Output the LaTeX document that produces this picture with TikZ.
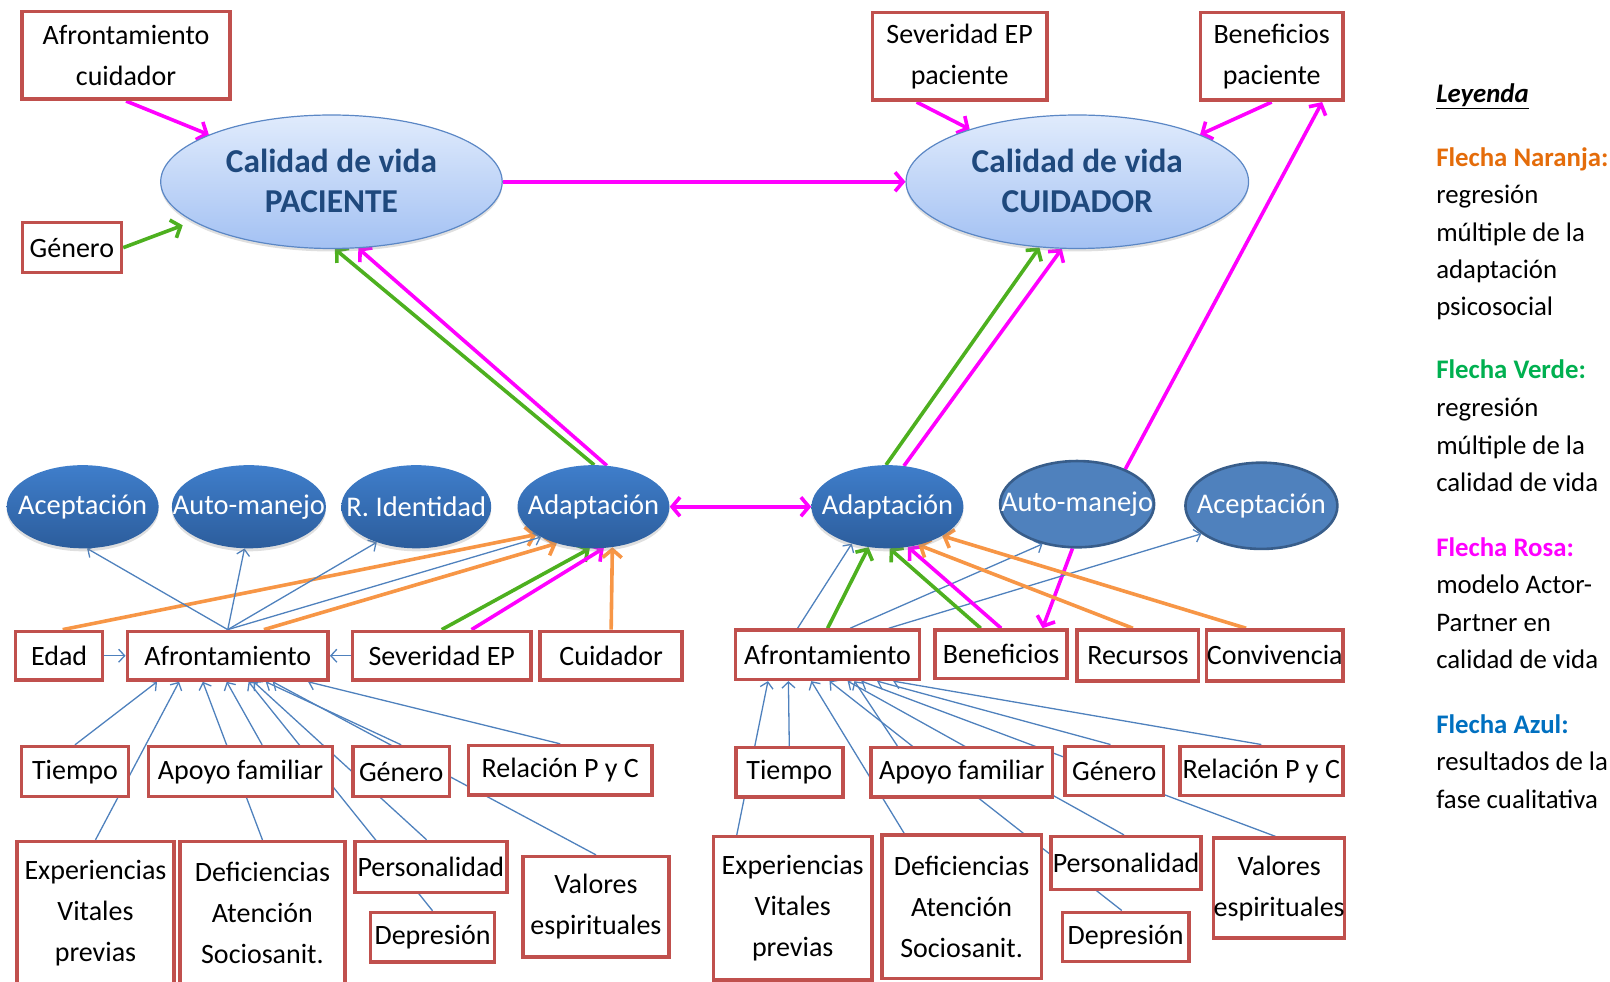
\documentclass[tikz,border=0pt]{standalone}
\usepackage{fontspec}
\setmainfont{Carlito}
\usetikzlibrary{shapes.geometric,arrows.meta,calc,shadows}
\pgfdeclarelayer{bg}
\pgfsetlayers{bg,main}

\definecolor{boxred}{HTML}{C0504D}
\definecolor{cvtext}{HTML}{1F497D}
\definecolor{cvtop}{HTML}{E0EBFC}
\definecolor{cvbot}{HTML}{A3C1F3}
\definecolor{cvline}{HTML}{5B87C5}
\definecolor{adtop}{HTML}{3F7ECB}
\definecolor{adbot}{HTML}{2C5D9C}
\definecolor{adflat}{HTML}{4F81BD}
\definecolor{adline}{HTML}{385D8A}
\definecolor{linkblue}{HTML}{4F81BD}
\definecolor{linkor}{HTML}{F79646}
\definecolor{linkgr}{HTML}{4DB01F}
\definecolor{linkpk}{HTML}{FF00FF}
\definecolor{legor}{HTML}{E46C0A}
\definecolor{leggr}{HTML}{00B050}
\definecolor{legbl}{HTML}{0070C0}

\newcommand\bxfont{\fontsize{28}{41}\selectfont}
\newcommand\elfont{\fontsize{28.5}{34}\selectfont}
\newcommand\cvfont{\fontsize{33.4}{40}\selectfont\bfseries}
\newcommand\lgfont{\fontsize{26.8}{37.5}\selectfont}

\tikzset{
  bx/.style 2 args={minimum width=#1*1.0268pt, minimum height=#2*1.0268pt},
  el/.style 2 args={ellipse, minimum width=2*#1*1.0268pt, minimum height=2*#2*1.0268pt, inner sep=0pt},
  box/.style={draw=boxred, line width=3.6pt, fill=white, inner sep=0pt, align=center, font=\bxfont},
  boxtext/.style={inner sep=0pt, align=center, font=\bxfont},
  cvell/.style={top color=cvtop, bottom color=cvbot, draw=cvline, line width=1.2pt,
    text=cvtext, font=\cvfont,
    drop shadow={shadow xshift=0pt, shadow yshift=-3pt, opacity=0.25}},
  dkell/.style={top color=adtop, bottom color=adbot, text=white, font=\elfont,
    drop shadow={shadow xshift=0pt, shadow yshift=-3pt, opacity=0.25}},
  flell/.style={fill=adflat, draw=adline, line width=2.6pt, text=white, font=\elfont},
  lnk/.style={line width=3.6pt, -{Straight Barb[length=8pt,width=19pt]}},
  lkpk/.style={lnk, draw=linkpk},
  lkpkboth/.style={lkpk, {Straight Barb[length=8pt,width=19pt]}-{Straight Barb[length=8pt,width=19pt]}},
  lkgr/.style={lnk, draw=linkgr},
  lkor/.style={lnk, draw=linkor},
  lkbl/.style={draw=linkblue, line width=1.3pt, -{Straight Barb[length=6pt,width=13pt]}},
  legtext/.style={anchor=base west, inner sep=0pt, font=\lgfont},
}

\begin{document}
\begin{tikzpicture}[x=1.0268pt, y=-1.0268pt]
\useasboundingbox (0,0) rectangle (1568,956);
\clip (0,0) rectangle (1568,956);

% ---- quality of life (top) ----
\node[box, bx={202.2}{85.3}] (acuid) at (122.8,54) {Afrontamiento\\cuidador};
\node[box, bx={96.5}{48.7}] (genP) at (70,241.2) {Género};
\node[box, bx={170.1}{85.3}] (sevP) at (934.6,55) {Severidad EP\\paciente};
\node[box, bx={139}{85.3}] (benP) at (1238.5,55) {Beneficios\\paciente};

\node[cvell, el={166.3}{65}] (cvP) at (322.8,177)
  {\makebox[0pt]{\begin{tabular}{@{}c@{}}\rule{0pt}{34pt}Calidad de vida\\PACIENTE\end{tabular}}};
\node[cvell, el={166.8}{65}] (cvC) at (1049.2,177)
  {\makebox[0pt]{\begin{tabular}{@{}c@{}}\rule{0pt}{34pt}Calidad de vida\\CUIDADOR\end{tabular}}};

% ---- adaptation ellipses ----
\node[dkell, el={74}{40.5}] (aceL) at (80.5,493.5) {\makebox[0pt]{Aceptación}};
\node[dkell, el={75}{40.5}] (autL) at (242.4,493.5) {\makebox[0pt]{Auto-manejo}};
\node[dkell, el={73}{40.5}] (ridL) at (405.4,493.5) {\makebox[0pt]{R. Identidad}};
\node[dkell, el={74}{40.5}] (adaL) at (578,493.5) {\makebox[0pt]{Adaptación}};
\node[dkell, el={74}{40.5}] (adaR) at (864.3,493.5) {\makebox[0pt]{Adaptación}};
\node[flell, el={75}{42}] (autR) at (1049,491) {\makebox[0pt]{Auto-manejo}};
\node[flell, el={74}{42}] (aceR) at (1228.5,492.6) {\makebox[0pt]{Aceptación}};

% ---- predictors, patient side ----
\node[box, bx={84.8}{47.3}] (edad) at (57.6,638.6) {Edad};
\node[box, bx={195.6}{47.3}] (afL) at (221.8,638.6) {Afrontamiento};
\node[box, bx={173.5}{47.3}] (sev) at (430.2,638.6) {Severidad EP};
\node[box, bx={138.5}{47.3}] (cuid) at (595.2,638.6) {Cuidador};

\node[box, bx={104.3}{48.7}] (tiL) at (73,751.5) {Tiempo};
\node[box, bx={179.1}{48.7}] (apL) at (234.3,751.5) {Apoyo familiar};
\node[box, bx={94.4}{48.7}] (geL) at (390.7,751.5) {Género};
\node[box, bx={178.3}{48.1}] (reL) at (545.6,750.2) {Relación P y C};

\node[box, bx={153.1}{170}] (exL) at (93,904.7) {};
\node[boxtext] (exL-t) at (93,889) {Experiencias\\Vitales\\previas};
\node[box, bx={160.7}{170}] (deL) at (255.6,904.7) {};
\node[boxtext] (deL-t) at (255.6,889) {Deficiencias\\Atención\\Sociosanit.};
\node[box, bx={147.8}{49.7}] (peL) at (419.6,844.5) {Personalidad};
\node[box, bx={120.8}{47.8}] (dpL) at (421.3,912.7) {Depresión};
\node[box, bx={141.7}{98}] (vaL) at (580.4,883.3) {Valores\\espirituales};

% ---- predictors, caregiver side ----
\node[box, bx={179.1}{48}] (afR) at (806,637.6) {Afrontamiento};
\node[box, bx={128.3}{47}] (ben) at (975,637.1) {Beneficios};
\node[box, bx={118.4}{49.4}] (rec) at (1108.2,638.3) {Recursos};
\node[box, bx={132.7}{49.4}] (conv) at (1241.5,638.3) {Convivencia};

\node[box, bx={104.4}{48.3}] (tiR) at (768.7,752.3) {Tiempo};
\node[box, bx={176.9}{48.3}] (apR) at (936.7,752.3) {Apoyo familiar};
\node[box, bx={95.6}{47.7}] (geR) at (1085.2,750.7) {Género};
\node[box, bx={158.8}{47.7}] (reR) at (1228.4,750.7) {Relación P y C};

\node[box, bx={154.3}{139.6}] (exR) at (772,884.6) {Experiencias\\Vitales\\previas};
\node[box, bx={155.6}{139.6}] (deR) at (936.5,883) {Deficiencias\\Atención\\Sociosanit.};
\node[box, bx={145.7}{51.3}] (peR) at (1096.7,840.5) {Personalidad};
\node[box, bx={123}{48}] (dpR) at (1096.3,912.5) {Depresión};
\node[box, bx={123.9}{97.4}] (vaR) at (1245.8,865.1) {Valores\\espirituales};

% ---- legend ----
\foreach \ly/\lt [count=\i] in {
  99.5/{\bfseries\itshape\underline{Leyenda}},
  162/{\bfseries\color{legor}Flecha Naranja:},
  198/regresión,
  235/múltiple de la,
  271/adaptación,
  307/psicosocial,
  369/{\bfseries\color{leggr}Flecha Verde:},
  406/regresión,
  443/múltiple de la,
  479/calidad de vida,
  542/{\bfseries\color{linkpk}Flecha Rosa:},
  578/modelo Actor-,
  615/Partner en,
  651/calidad de vida,
  714/{\bfseries\color{legbl}Flecha Azul:},
  750/resultados de la,
  787/fase cualitativa}
  \node[legtext] (leg\i) at (1398.6,\ly) {\lt};

% ---- connectors ----
\begin{pgfonlayer}{bg}
% quality of life
\draw[lkpk] (acuid.south) -- (cvP.159);
\draw[lkgr, shorten >=11pt] (genP.east) -- (cvP.196);
\draw[lkpk] (cvP.east) -- (cvC.west);
\draw[lkpk] ($(sevP.south west)!0.259!(sevP.south east)$) -- (cvC.154);
\draw[lkpk] (benP.south) -- (cvC.21);
\draw[lkpk] (autR.36) -- ($(benP.south west)!0.845!(benP.south east)$);
\draw[lkgr] (adaL.89) -- (cvP.273);
\draw[lkpk] (adaL.72) -- (cvP.292);
\draw[lkgr] (adaR.92) -- (cvC.240);
\draw[lkpk] (adaR.68) -- (cvC.257);
\draw[lkpkboth] (adaL.east) -- (adaR.west);
\draw[lkpk] (autR.264) -- ($(ben.north west)!0.806!(ben.north east)$);

% patient adaptation
\draw[lkor] ($(edad.north west)!0.539!(edad.north east)$) -- (adaL.206);
\draw[lkor] ($(afL.north west)!0.677!(afL.north east)$) -- (adaL.225);
\draw[lkgr] (sev.north) -- (adaL.265);
\draw[lkpk] ($(sev.north west)!0.664!(sev.north east)$) -- (adaL.284);
\draw[lkor] (cuid.north) -- (adaL.295);
\draw[lkbl] (afL.north) -- (aceL.276);
\draw[lkbl] (afL.north) -- (autL.264);
\draw[lkbl] (afL.north) -- (ridL.222);
\draw[lkbl] (afL.north) -- (adaL.210);
\draw[lkbl] (edad.east) -- (afL.west);
\draw[lkbl] (sev.west) -- (afL.east);

% caregiver adaptation
\draw[lkbl] ($(afR.north west)!0.34!(afR.north east)$) -- (adaR.226);
\draw[lkgr] (afR.north) -- (adaR.245);
\draw[lkbl] ($(afR.north west)!0.62!(afR.north east)$) -- (autR.229);
\draw[lkbl] ($(afR.north west)!0.826!(afR.north east)$) -- (aceR.205);
\draw[lkgr] ($(ben.north west)!0.349!(ben.north east)$) -- (adaR.273);
\draw[lkpk] (ben.north) -- (adaR.297);
\draw[lkor] ($(rec.north west)!0.46!(rec.north east)$) -- (adaR.309);
\draw[lkor] ($(conv.north west)!0.295!(conv.north east)$) -- (adaR.332);

% patient coping factors
\draw[lkbl] (tiL.north) -- ($(afL.south west)!0.154!(afL.south east)$);
\draw[lkbl] (exL.north) -- ($(afL.south west)!0.262!(afL.south east)$);
\draw[lkbl] (deL.north) -- ($(afL.south west)!0.378!(afL.south east)$);
\draw[lkbl] ($(apL.north west)!0.615!(apL.north east)$) -- ($(afL.south west)!0.495!(afL.south east)$);
\draw[lkbl] (dpL.north) -- ($(afL.south west)!0.602!(afL.south east)$);
\draw[lkbl] ($(peL.north west)!0.473!(peL.north east)$) -- ($(afL.south west)!0.627!(afL.south east)$);
\draw[lkbl] (geL.north) -- ($(afL.south west)!0.686!(afL.south east)$);
\draw[lkbl] (vaL.north) -- ($(afL.south west)!0.72!(afL.south east)$);
\draw[lkbl] (reL.north) -- ($(afL.south west)!0.893!(afL.south east)$);

% caregiver coping factors
\draw[lkbl] ($(exR.north west)!0.155!(exR.north east)$) -- ($(afR.south west)!0.182!(afR.south east)$);
\draw[lkbl] (tiR.north) -- ($(afR.south west)!0.291!(afR.south east)$);
\draw[lkbl] ($(deR.north west)!0.148!(deR.north east)$) -- ($(afR.south west)!0.413!(afR.south east)$);
\draw[lkbl] ($(dpR.north west)!0.47!(dpR.north east)$) -- ($(afR.south west)!0.51!(afR.south east)$);
\draw[lkbl] ($(peR.north west)!0.486!(peR.north east)$) -- ($(afR.south west)!0.607!(afR.south east)$);
\draw[lkbl] ($(apR.north west)!0.152!(apR.north east)$) -- ($(afR.south west)!0.643!(afR.south east)$);
\draw[lkbl] ($(vaR.north west)!0.474!(vaR.north east)$) -- ($(afR.south west)!0.68!(afR.south east)$);
\draw[lkbl] ($(geR.north west)!0.463!(geR.north east)$) -- ($(afR.south west)!0.764!(afR.south east)$);
\draw[lkbl] (reR.north) -- ($(afR.south west)!0.85!(afR.south east)$);
\end{pgfonlayer}
\end{tikzpicture}
\end{document}
